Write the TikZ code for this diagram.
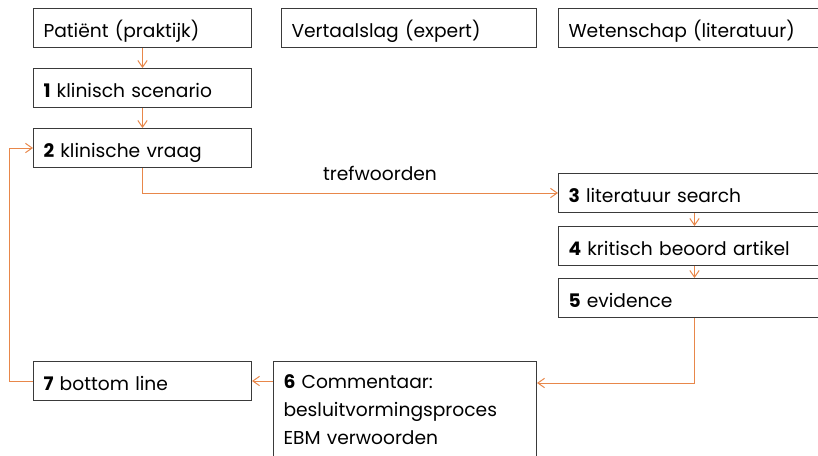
\documentclass[tikz,border=0pt]{standalone}
\usepackage{fontspec}
\setmainfont{Poppins}
\usetikzlibrary{arrows.meta,calc}
\definecolor{orangeline}{HTML}{E8874A}
\definecolor{boxline}{HTML}{3A3A3A}
\begin{document}
\begin{tikzpicture}[x=0.75pt,y=-0.75pt,
  every node/.style={font=\fontsize{14}{21}\selectfont},
  box/.style={draw=boxline, line width=0.75pt, anchor=north west, align=left,
    inner xsep=7.5pt, minimum height=29.25pt, text height=16pt, text depth=1.75pt},
  leftbox/.style={box, text width=148.5pt},
  rightbox/.style={box, text width=189pt},
  arr/.style={draw=orangeline, line width=0.75pt, -{Straight Barb[length=5pt,width=7pt]}}
]
\useasboundingbox (0,0) rectangle (818,455);
% header boxes
\node[leftbox] (pat) at (33,8) {Patiënt (praktijk)};
\node[box, text width=176.25pt] (ver) at (281,8) {Vertaalslag (expert)};
\node[rightbox] (wet) at (558,8) {Wetenschap (literatuur)};
% left column
\node[leftbox] (n1) at (33,68) {\textbf{1} klinisch scenario};
\node[leftbox] (n2) at (33,128) {\textbf{2} klinische vraag};
% right column
\node[rightbox] (n3) at (558,173) {\textbf{3} literatuur search};
\node[rightbox] (n4) at (558,226) {\textbf{4} kritisch beoord artikel};
\node[rightbox] (n5) at (558,278) {\textbf{5} evidence};
% bottom
\node[leftbox] (n7) at (33,361) {\textbf{7} bottom line};
\node[box, text width=182.25pt, inner ysep=9pt, text height=11pt, text depth=48pt] (n6) at (273,361)
  {\textbf{6} Commentaar:\\besluitvormingsproces\\EBM verwoorden};
% label
\node[anchor=base, inner sep=0pt] (tw) at (380,180) {trefwoorden};
% connectors
\draw[arr] (pat.south) -- (n1.north);
\draw[arr] (n1.south) -- (n2.north);
\draw[arr] (n2.south) |- (n3.west);
\draw[arr] (n3.south) -- (n4.north);
\draw[arr] (n4.south) -- (n5.north);
\draw[arr] (n5.south) |- ([yshift=-16.5pt]n6.north east);
\draw[arr] (n6.west |- n7.east) -- (n7.east);
\draw[arr] (n7.west) -- ++(-24,0) |- (n2.west);
\end{tikzpicture}
\end{document}
